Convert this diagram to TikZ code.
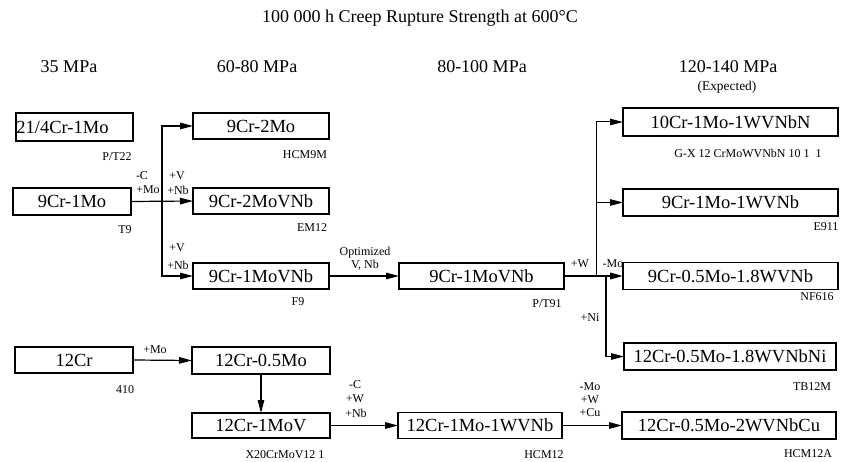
\documentclass[tikz,border=0pt]{standalone}
\usepackage{fontspec}
\setmainfont{Liberation Serif}
\usetikzlibrary{arrows.meta}
\begin{document}
\begin{tikzpicture}[x=1pt,y=-1pt,
  box/.style={draw, line width=1.1pt, inner sep=0pt, outer sep=0pt, font=\fontsize{18.5}{18}\selectfont},
  thickbox/.style={box, line width=1.8pt},
  lab/.style={inner sep=0pt, font=\fontsize{12}{12.5}\selectfont},
  hdr/.style={inner sep=0pt, font=\fontsize{18}{18}\selectfont},
  conn/.style={line width=1.2pt, -{Stealth[length=13pt,width=6.5pt,inset=0pt]}},
  plain/.style={line width=1.2pt}
]
\useasboundingbox (0,0) rectangle (841,462);

% title and headers
\node[hdr] (title) at (420,18) {100 000 h Creep Rupture Strength at 600°C};
\node[hdr] (h1) at (69,67) {35 MPa};
\node[hdr] (h2) at (257,67) {60-80 MPa};
\node[hdr] (h3) at (482,67) {80-100 MPa};
\node[hdr] (h4) at (728,67) {120-140 MPa};
\node[inner sep=0pt, font=\fontsize{13.4}{14}\selectfont] (h4b) at (727,87) {(Expected)};

% boxes
\node[thickbox, minimum width=117pt, minimum height=28pt, font=\fontsize{18.5}{18}\selectfont] (A) at (74.5,127) {\hspace*{-24pt}21/4Cr-1Mo};
\node[box, minimum width=118pt, minimum height=27pt] (B) at (72,201.5) {9Cr-1Mo};
\node[box, minimum width=136pt, minimum height=26pt] (C) at (261,126) {9Cr-2Mo};
\node[box, minimum width=136pt, minimum height=26pt] (D) at (261,201) {9Cr-2MoVNb};
\node[box, minimum width=136pt, minimum height=26pt] (E) at (261,276) {9Cr-1MoVNb};
\node[thickbox, minimum width=165pt, minimum height=26pt] (F) at (481.5,276) {9Cr-1MoVNb};
\node[box, minimum width=215pt, minimum height=28pt] (G) at (730.5,122) {10Cr-1Mo-1WVNbN};
\node[box, minimum width=215pt, minimum height=27pt] (H) at (730.5,202.5) {9Cr-1Mo-1WVNb};
\node[box, minimum width=215pt, minimum height=27pt] (I) at (730.5,276) {9Cr-0.5Mo-1.8WVNb};
\node[box, minimum width=212pt, minimum height=27pt] (J) at (730,356.5) {12Cr-0.5Mo-1.8WVNbNi};
\node[box, minimum width=214pt, minimum height=27pt] (K) at (729,425.5) {12Cr-0.5Mo-2WVNbCu};
\node[box, minimum width=118pt, minimum height=26pt] (L) at (74,360) {12Cr};
\node[box, minimum width=138pt, minimum height=27pt] (M) at (261,360.5) {12Cr-0.5Mo};
\node[thickbox, minimum width=138pt, minimum height=25pt] (N) at (261,425.5) {12Cr-1MoV};
\node[box, minimum width=164pt, minimum height=26pt] (O) at (480,425.5) {12Cr-1Mo-1WVNb};

% designations
\node[lab] (lA) at (117,157) {P/T22};
\node[lab] (lB) at (125,230) {T9};
\node[lab] (lC) at (305,155) {HCM9M};
\node[lab] (lD) at (312,228) {EM12};
\node[lab] (lE) at (298,302) {F9};
\node[lab] (lF) at (547,304) {P/T91};
\node[lab] (lG) at (748,153) {G-X 12 CrMoWVNbN 10 1 \ 1};
\node[lab] (lH) at (826,227) {E911};
\node[lab] (lI) at (817,297) {NF616};
\node[lab] (lJ) at (812,387) {TB12M};
\node[lab] (lK) at (808,454) {HCM12A};
\node[lab] (lL) at (125,390) {410};
\node[lab] (lN) at (285,455) {X20CrMoV12 1};
\node[lab] (lO) at (544,455) {HCM12};

% connectors: 9Cr-1Mo branch
\coordinate (sA) at (162,201.5);
\draw[conn] (B.east) -- (D.west);
\draw[conn] (sA) |- (C.west);
\draw[conn] (sA) |- (E.west);
\node[lab] (t1) at (142,176) {-C};
\node[lab] (t2) at (148,190) {+Mo};
\node[lab] (t3) at (177,176) {+V};
\node[lab] (t4) at (178,190) {+Nb};
\node[lab] (t5) at (177,248) {+V};
\node[lab] (t6) at (178,265) {+Nb};

% optimized
\draw[conn] (E.east) -- (F.west);
\node[lab, align=center] (t7) at (365,259) {Optimized\\V, Nb};

% P/T91 branch
\coordinate (sB) at (596,276);
\coordinate (sC) at (606,276);
\draw[conn, line width=2pt] (F.east) -- (I.west);
\draw[conn, line width=1pt] (sB) |- (G.west);
\draw[conn, line width=1pt] (sB) |- (H.west);
\draw[conn] (sC) |- (J.west);
\node[lab] (t8) at (580,264) {+W};
\node[lab] (t9) at (613,264) {-Mo};
\node[lab] (t10) at (590,318) {+Ni};

% 12Cr line
\draw[conn] (L.east) -- (M.west);
\node[lab] (t11) at (155,350) {+Mo};
\draw[conn] (M.south) -- (N.north);
\draw[conn] (N.east) -- (O.west);
\node[lab] (t12) at (355,385) {-C};
\node[lab] (t13) at (355,399) {+W};
\node[lab] (t14) at (356,413) {+Nb};
\draw[conn] (O.east) -- (K.west);
\node[lab] (t15) at (590,387) {-Mo};
\node[lab] (t16) at (590,400) {+W};
\node[lab] (t17) at (590,413) {+Cu};
\end{tikzpicture}
\end{document}
